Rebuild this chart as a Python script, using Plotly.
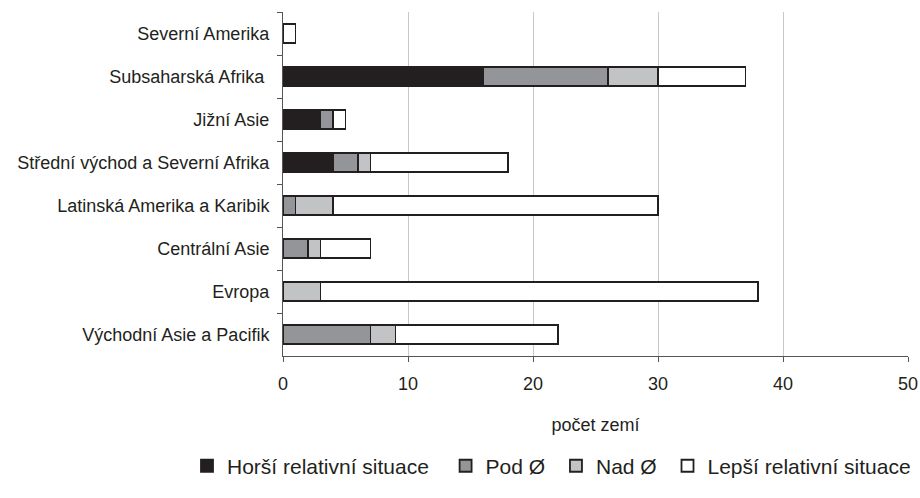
import plotly.graph_objects as go

regions = [
    "Severní Amerika",
    "Subsaharská Afrika ",
    "Jižní Asie",
    "Střední východ a Severní Afrika",
    "Latinská Amerika a Karibik",
    "Centrální Asie",
    "Evropa",
    "Východní Asie a Pacifik",
]
horsi = [0, 16, 3, 4, 0, 0, 0, 0]
pod = [0, 10, 1, 2, 1, 2, 0, 7]
nad = [0, 4, 0, 1, 3, 1, 3, 2]
lepsi = [1, 7, 1, 11, 26, 4, 35, 13]

series_names = ["Horší relativní situace", "Pod Ø", "Nad Ø", "Lepší relativní situace"]
series_values = [horsi, pod, nad, lepsi]
colors = ["#231f20", "#939598", "#c2c3c4", "#ffffff"]

x_ticks = [0, 10, 20, 30, 40, 50]
x_title = "počet zemí"

ink = "#231f20"
pads = ["\u00a0\u00a0", "\u00a0", "\u00a0", ""]
fig = go.Figure()
for name, vals, col, p in zip(series_names, series_values, colors, pads):
    fig.add_trace(go.Bar(
        y=regions, x=vals, name=name + p, orientation="h",
        marker=dict(color=col, line=dict(color=ink, width=1.8)),
        width=0.45,
    ))

fig.update_layout(
    barmode="stack",
    width=920, height=498,
    margin=dict(l=283, r=12, t=12, b=142, autoexpand=False),
    plot_bgcolor="white", paper_bgcolor="white",
    font=dict(family="Liberation Sans, Arial, sans-serif", size=18, color=ink),
    showlegend=True,
    legend=dict(
        orientation="h",
        x=-0.1536, xanchor="left", y=-0.32, yanchor="middle",
        font=dict(size=21, color=ink), traceorder="normal",
        itemwidth=30,
    ),
)
fig.update_xaxes(
    range=[0, 50], tickvals=x_ticks, showgrid=True, gridcolor="#c8c8c8", gridwidth=1,
    zeroline=False, showline=True, linecolor="#555555", linewidth=1,
    ticks="outside", ticklen=5, tickcolor="#555555",
    tickfont=dict(size=18), automargin=False, ticklabelstandoff=6,
    title=dict(text=x_title, font=dict(size=18), standoff=25),
)
fig.update_yaxes(
    categoryorder="array", categoryarray=regions, autorange="reversed",
    showline=True, linecolor="#555555", linewidth=1,
    ticks="outside", ticklen=5, tickcolor="#555555", tickson="boundaries",
    tickfont=dict(size=18), ticklabelstandoff=9, automargin=False,
)

fig.write_html(
    "out.html",
    config={"displayModeBar": False},
    post_script="document.body.style.margin='0';",
)
